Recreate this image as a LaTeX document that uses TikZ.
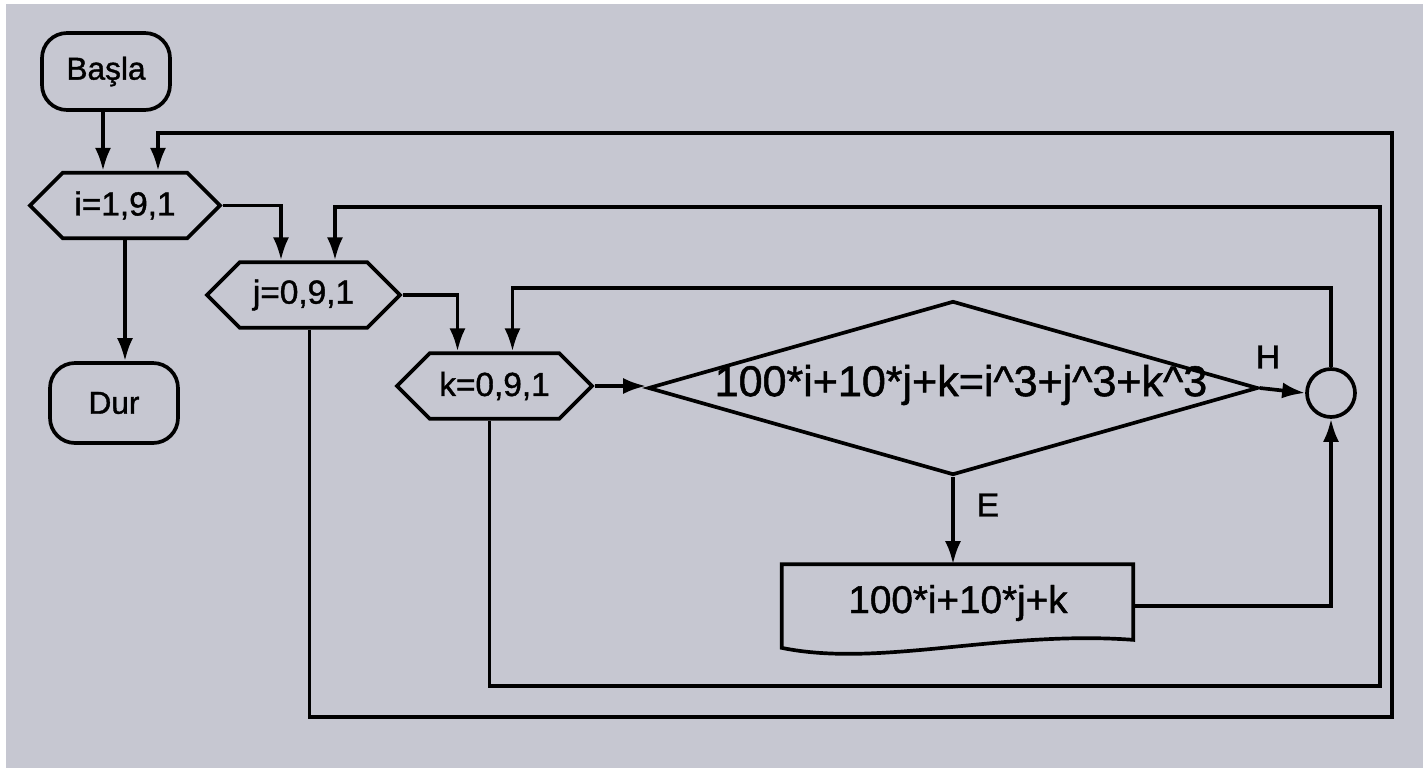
\documentclass[tikz,border=0pt]{standalone}
\usepackage{fontspec}
\setmainfont{Liberation Sans}[FakeBold=1.2]
\usetikzlibrary{shapes.geometric,shapes.symbols,arrows.meta}
\definecolor{bg}{RGB}{198,199,209}
\tikzset{
  ln/.style={line width=2.1pt, line join=miter},
  arr/.style={ln, -{Latex[length=0.46cm,width=0.32cm]}},
  term/.style={ln, draw, rectangle, rounded corners=0.5cm, minimum width=2.56cm, inner sep=0pt, font=\fontsize{18}{22}\selectfont},
  loopbox/.style={ln, draw, signal, signal to=west and east, signal pointer angle=90, inner sep=0pt, minimum height=1.31cm, font=\fontsize{19}{22}\selectfont},
  lbl/.style={font=\fontsize{19}{22}\selectfont},
}
\begin{document}
\begin{tikzpicture}[x=0.02cm, y=-0.02cm]
\path[fill=white] (0,0) rectangle (1423,768);
\path[fill=bg] (6,4) rectangle (1423,768);
% nodes
\node[term, minimum height=1.54cm] (basla) at (106,71.5) {Başla};
\node[term, minimum height=1.6cm] (dur) at (114,403) {Dur};
\node[loopbox, minimum width=3.8cm] (i) at (125,205.5) {i=1,9,1};
\node[loopbox, minimum width=3.86cm] (j) at (303.5,295) {j=0,9,1};
\node[loopbox, minimum width=3.9cm] (k) at (494.5,386) {k=0,9,1};
\node[ln, draw, diamond, minimum width=12.2cm, minimum height=3.48cm, inner sep=0pt] (d) at (953,388) {};
\node[font=\fontsize{24.5}{28}\selectfont] (dt) at (961,385) {100*i+10*j+k=i\textasciicircum 3+j\textasciicircum 3+k\textasciicircum 3};
\node[ln, draw, circle, minimum size=0.96cm, inner sep=0pt] (c) at (1331,393) {};
\node[rectangle, minimum width=7.02cm, minimum height=1.66cm, inner sep=0pt] (out) at (957.5,606) {};
\draw[ln] (out.south west) -- (out.north west) -- (out.north east) -- ([yshift=0.16cm]out.south east)
  .. controls (1000,630) and (880,668) .. (out.south west) -- cycle;
\node[font=\fontsize{22}{25}\selectfont] (ot) at (958,603) {100*i+10*j+k};
\node[lbl] (H) at (1268,357) {H};
\node[lbl] (E) at (988,505) {E};
% corner coordinates of the loops
\coordinate (r1t) at (1392,133);
\coordinate (r1b) at (1392,717);
\coordinate (r2t) at (1380,207);
\coordinate (r2b) at (1380,686);
\coordinate (r3t) at (1334,288);
% connectors
\draw[arr] ([xshift=-0.06cm]basla.south) -- ([xshift=-0.06cm]basla.south |- i.north);
\draw[arr] (i.south) -- (i.south |- dur.north);
\draw[arr] (i.east) -| ([xshift=-0.45cm]j.north);
\draw[arr] (j.east) -| ([xshift=-0.74cm]k.north);
\draw[arr] (k.east) -- (k.east -| d.west);
\draw[arr] (d.east) -- (c.west);
\draw[arr] (d.south) -- (d.south |- out.north);
\draw[arr] (out.east) -| (c.south);
\draw[arr] (c.north) -- (c.north |- r3t) -| ([xshift=0.36cm]k.north);
\draw[arr] ([xshift=-0.1cm]k.south) |- (r2b) -- (r2t) -| ([xshift=0.63cm]j.north);
\draw[arr] ([xshift=0.12cm]j.south) |- (r1b) -- (r1t) -| ([xshift=0.66cm]i.north);
\end{tikzpicture}
\end{document}
